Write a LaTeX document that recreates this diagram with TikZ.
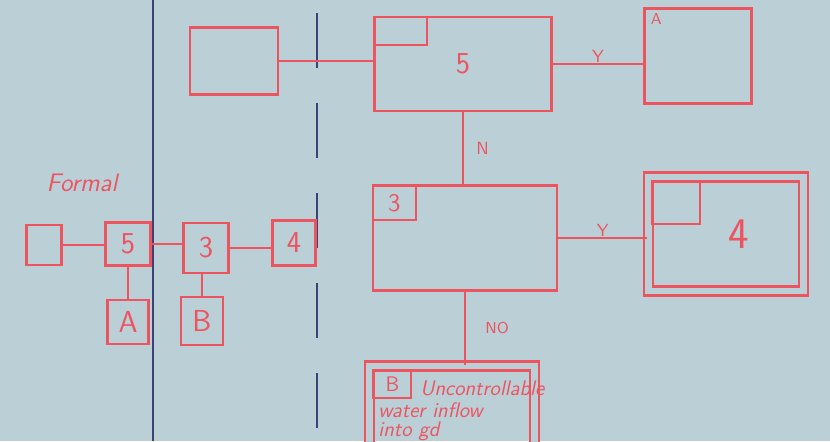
\documentclass[tikz,border=0pt]{standalone}
\usepackage{tikz}
\usetikzlibrary{positioning, calc}

\definecolor{paper}{RGB}{187,207,214}
\definecolor{pen}{RGB}{236,84,96}
\definecolor{rule}{RGB}{58,66,118}

\begin{document}
\begin{tikzpicture}[
    x=0.2mm, y=-0.2mm,
    thick,
    % Node Styles
    box/.style={rectangle, draw=pen, line width=1.3pt, inner sep=1pt, text=pen, font=\sffamily\LARGE},
    dbox/.style={box, double=paper, double distance=1.3mm},
    tag/.style={rectangle, draw=pen, line width=1.2pt, anchor=north west, inner sep=1pt, text=pen, font=\sffamily\Large},
    wire/.style={draw=pen, line width=1.3pt},
    lab/.style={text=pen, font=\sffamily, inner sep=1pt},
    note/.style={text=pen, font=\sffamily\itshape\large, inner sep=1pt, align=left}
]

% --- 0. Paper and rulings ---
\fill[paper] (0,0) rectangle (830,441);
\useasboundingbox (0,0) rectangle (830,441);
\draw[rule, line width=0.8pt] (153,0) -- (153,441);
\draw[rule, line width=0.8pt, dash pattern=on 11mm off 7mm] (317,13) -- (317,441);

% --- 1. Top row ---
\node[box, minimum width=17.6mm, minimum height=13.4mm] (topL) at (234,61) {};
\node[box, minimum width=35.4mm, minimum height=18.8mm] (s5) at (463,64) {5};
\node[tag, minimum width=10.6mm, minimum height=5.6mm] (s5tag) at (s5.north west) {};
\node[box, minimum width=21.4mm, minimum height=19mm] (topR) at (698,56) {};
\node[lab, anchor=north west, font=\sffamily\small] (topRtag) at ($(topR.north west)+(5,4)$) {A};

% --- 2. Middle row ---
\node[box, minimum width=36.8mm, minimum height=21mm] (s3) at (465,238) {};
\node[tag, minimum width=8.6mm, minimum height=7mm] (s3tag) at (s3.north west) {3};
\node[dbox, minimum width=31mm, minimum height=22.8mm, font=\sffamily\Huge] (s4) at (726,234) {\hspace*{5mm}4};
\node[tag, minimum width=9.6mm, minimum height=8.6mm] (s4tag) at ($(s4.north west)+(4,4)$) {};

% --- 3. Bottom box ---
\node[dbox, minimum width=33mm, minimum height=17.2mm] (sB) at (452,409) {};
\node[tag, minimum width=7.6mm, minimum height=5.6mm, font=\sffamily\large] (sBtag) at ($(sB.north west)+(4,4)$) {B};
\node[note, anchor=west] (sBtext1) at (418,388) {Uncontrollable};
\node[note, anchor=west] (sBtext2) at (376,410) {water inflow};
\node[note, anchor=west] (sBtext3) at (376,431) {into gd};

% --- 4. Left side (Formal) ---
\node[note, font=\sffamily\itshape\Large] (formal) at (82,183) {Formal};
\node[box, minimum width=7mm, minimum height=8mm] (e0) at (44,245) {};
\node[box, minimum width=9mm, minimum height=8.6mm] (l5) at (128,244) {5};
\node[box, minimum width=9mm, minimum height=10mm] (l3) at (206,248) {3};
\node[box, minimum width=8.6mm, minimum height=9mm] (l4) at (294,243) {4};
\node[box, below=6.4mm of l5, minimum width=8.2mm, minimum height=8.8mm] (lA) {A};
\node[box, below=4.4mm of l3, xshift=-0.8mm, minimum width=8.4mm, minimum height=9.6mm] (lB) {B};

% --- Edges ---
% Top row
\draw[wire] (topL.east) -- (s5.west |- topL.east);
\draw[wire] (s5.east) -- (topR.west |- s5.east) node[lab, midway, above=-1pt] {Y};

% Down the middle
\draw[wire] (s5.south) -- (s5.south |- s3.north) node[lab, midway, right=6pt] {N};
\draw[wire] (s3.east) -- (s4.west |- s3.east) node[lab, midway, above=-1pt] {Y};
\draw[wire] (sB.north -| s3.south) -- (s3.south) node[lab, midway, right=10pt, font=\sffamily\small] {NO};

% Left chain
\draw[wire] (e0.east) -- (l5.west |- e0.east);
\draw[wire] (l5.east) -- (l3.west |- l5.east);
\draw[wire] (l3.east) -- (l4.west |- l3.east);
\draw[wire] (l5.south) -- (lA.north);
\draw[wire] (l3.south -| lB.north) -- (lB.north);

\end{tikzpicture}
\end{document}
